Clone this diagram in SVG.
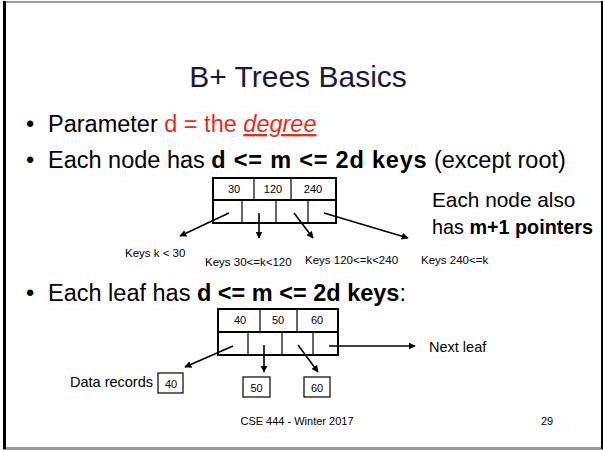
<svg xmlns="http://www.w3.org/2000/svg" width="603" height="450" viewBox="0 0 603 450">
<defs>
<marker id="ah" viewBox="0 0 10 10" refX="9" refY="5" markerWidth="7" markerHeight="7" markerUnits="userSpaceOnUse" orient="auto">
<path d="M0,0 L10,5 L0,10 z" fill="#000"/>
</marker>
<style>
text{font-family:"Liberation Sans",Arial,sans-serif;fill:#000}
.title{font-size:30px;fill:#1a1a38;text-anchor:middle}
.bul{font-size:23.5px}
.red{fill:#e0301e}
.b{font-weight:bold}
.box{fill:#fff;stroke:#000;stroke-width:2}
.thin{fill:#fff;stroke:#000;stroke-width:1.2}
.key{font-size:11px;text-anchor:middle}
.lbl{font-size:11.5px}
.cap{font-size:14.5px}
.conn line{stroke:#000;stroke-width:1.6;marker-end:url(#ah)}
.foot{font-size:11px;text-anchor:middle}
</style>
</defs>
<rect x="0" y="0" width="603" height="450" fill="#fff"/>
<g id="frame">
<rect x="3" y="1" width="600" height="2" fill="#9a9a9a"/>
<rect x="3" y="447" width="600" height="3" fill="#9a9a9a"/>
<rect x="3" y="1" width="3" height="448" fill="#000"/>
<rect x="601" y="1" width="2" height="448" fill="#000"/>
</g>
<text class="title" x="298" y="87">B+ Trees Basics</text>
<g id="bullets">
<text class="bul" x="26" y="132">•</text>
<text class="bul" x="48" y="132">Parameter <tspan class="red">d = the </tspan><tspan class="red" font-style="italic" text-decoration="underline">degree</tspan></text>
<text class="bul" x="26" y="168">•</text>
<text class="bul" x="48" y="168">Each node has <tspan class="b" letter-spacing="0.8">d &lt;= m &lt;= 2d keys</tspan> (except root)</text>
<text class="bul" x="26" y="301">•</text>
<text class="bul" x="48" y="301">Each leaf has <tspan class="b">d &lt;= m &lt;= 2d keys</tspan>:</text>
</g>
<g id="node1">
<rect class="box" x="213" y="178" width="123" height="45"/>
<line x1="213" y1="200" x2="336" y2="200" stroke="#000" stroke-width="2"/>
<line x1="254" y1="178" x2="254" y2="200" stroke="#000" stroke-width="1.2"/>
<line x1="291" y1="178" x2="291" y2="200" stroke="#000" stroke-width="1.2"/>
<line x1="242" y1="200" x2="242" y2="223" stroke="#000" stroke-width="1.2"/>
<line x1="276" y1="200" x2="276" y2="223" stroke="#000" stroke-width="1.2"/>
<line x1="308" y1="200" x2="308" y2="223" stroke="#000" stroke-width="1.2"/>
<text class="key" x="234" y="193">30</text>
<text class="key" x="273" y="193">120</text>
<text class="key" x="313" y="193">240</text>
</g>
<g id="side-note">
<text x="432" y="207" font-size="20.8">Each node also</text>
<text x="432" y="234" font-size="19.8">has <tspan class="b">m+1 pointers</tspan></text>
</g>
<g id="leaf">
<rect class="box" x="218" y="309" width="120" height="46"/>
<line x1="218" y1="332" x2="338" y2="332" stroke="#000" stroke-width="2"/>
<line x1="260" y1="309" x2="260" y2="332" stroke="#000" stroke-width="1.2"/>
<line x1="297" y1="309" x2="297" y2="332" stroke="#000" stroke-width="1.2"/>
<line x1="248" y1="332" x2="248" y2="355" stroke="#000" stroke-width="1.2"/>
<line x1="282" y1="332" x2="282" y2="355" stroke="#000" stroke-width="1.2"/>
<line x1="313" y1="332" x2="313" y2="355" stroke="#000" stroke-width="1.2"/>
<text class="key" x="240" y="324">40</text>
<text class="key" x="278" y="324">50</text>
<text class="key" x="317" y="324">60</text>
</g>
<g id="rec40">
<rect class="thin" x="158" y="373" width="25" height="20"/>
<text class="key" x="171" y="388">40</text>
</g>
<g id="rec50">
<rect class="thin" x="243" y="377" width="27" height="20"/>
<text class="key" font-size="12" x="256.5" y="392">50</text>
</g>
<g id="rec60">
<rect class="thin" x="304" y="377" width="26" height="20"/>
<text class="key" font-size="12" x="317" y="392">60</text>
</g>
<g id="labels">
<text class="lbl" x="125" y="257">Keys k &lt; 30</text>
<text class="lbl" x="205" y="266">Keys 30&lt;=k&lt;120</text>
<text class="lbl" x="305" y="264">Keys 120&lt;=k&lt;240</text>
<text class="lbl" x="421" y="264">Keys 240&lt;=k</text>
<text class="cap" x="70" y="387">Data records</text>
<text class="cap" x="429" y="352">Next leaf</text>
</g>
<g class="conn" id="connectors">
<line x1="229" y1="213" x2="180" y2="236"/>
<line x1="259" y1="213" x2="259" y2="238"/>
<line x1="294" y1="213" x2="313" y2="238"/>
<line x1="324" y1="213" x2="408" y2="238"/>
<line x1="233" y1="346" x2="185" y2="367"/>
<line x1="264" y1="345" x2="264" y2="372"/>
<line x1="298" y1="345" x2="318" y2="372"/>
<line x1="329" y1="346" x2="415" y2="346"/>
</g>
<g id="footer">
<text class="foot" x="297" y="425">CSE 444 - Winter 2017</text>
<text x="547" y="425" font-family="'Liberation Serif',serif" font-size="11" text-anchor="middle">29</text>
</g>
</svg>
